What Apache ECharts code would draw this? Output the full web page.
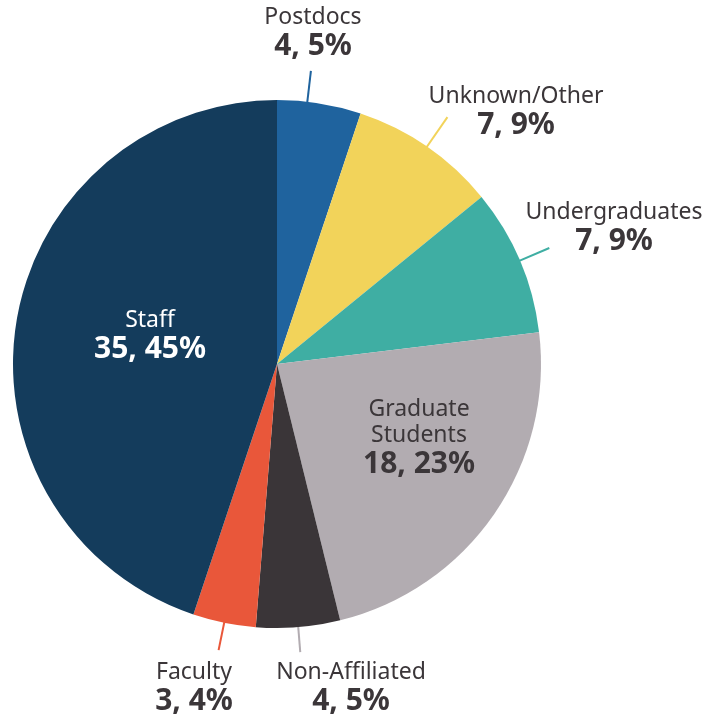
<!DOCTYPE html>
<html>
<head>
<meta charset="utf-8">
<script src="https://cdn.jsdelivr.net/npm/echarts@6/dist/echarts.min.js"></script>
<style>
  html, body { margin: 0; padding: 0; background: #fff; }
  #chart { width: 723px; height: 719px; }
</style>
</head>
<body>
<div id="chart"></div>
<script>
// data, clockwise from 12 o'clock
const categories = ['Postdocs', 'Unknown/Other', 'Undergraduates', 'Graduate Students', 'Non-Affiliated', 'Faculty', 'Staff']
const counts = [4, 7, 7, 18, 4, 3, 35]
const colors = ['#1f639e', '#f2d35a', '#3faea3', '#b2acb1', '#3a3538', '#e9573a', '#143c5c']

// where each label block sits, and how its leader line runs (radius from / to)
const labelSpots = {
  'Postdocs':          { x: 313, y: 33, line: [262, 295], lineColor: '#1f639e', angle: 6.6 },
  'Unknown/Other':     { x: 516, y: 112, line: [263, 300], lineColor: '#f2d35a' },
  'Undergraduates':    { x: 614, y: 228, line: [262, 296], lineColor: '#3faea3' },
  'Graduate Students': { x: 419, y: 438 },
  'Non-Affiliated':    { x: 351, y: 688, line: [236, 289], lineColor: '#b2acb1' },
  'Faculty':           { x: 194, y: 688, line: [262, 292], lineColor: '#e9573a' },
  'Staff':             { x: 150, y: 336, white: true }
}

const cx = 277, cy = 364, R = 264
const total = counts.reduce((a, b) => a + b, 0)

// middle angle of each slice (radians, clockwise from top)
const midAngles = []
let acc = 0
counts.forEach(v => {
  midAngles.push((acc + v / 2) / total * Math.PI * 2)
  acc += v
})

const ChartEl = echarts.init(document.getElementById('chart'))

const options = {
  backgroundColor: '#fff',
  animation: false,
  series: [{
    type: 'pie',
    center: [cx, cy],
    radius: R,
    startAngle: 90,
    clockwise: true,
    percentPrecision: 0,
    avoidLabelOverlap: false,
    label: {
      show: true,
      position: 'outside',
      formatter: p => '{n|' + p.name.replace(' ', '\n') + '}\n{v|' + p.value + ', ' + p.percent + '%}',
      align: 'center',
      rich: {
        n: { fontFamily: 'Noto Sans', fontSize: 23, lineHeight: 26, color: '#3b3639', align: 'center' },
        v: { fontFamily: 'Noto Sans', fontSize: 30, lineHeight: 32, fontWeight: 'bold', color: '#3b3639', align: 'center' }
      }
    },
    labelLine: { show: true, length: 10, length2: 0, lineStyle: { width: 2 } },
    labelLayout: params => {
      const name = categories[params.dataIndex]
      const spot = labelSpots[name]
      const out = { x: spot.x, y: spot.y, align: 'center', verticalAlign: 'middle' }
      if (spot.line) {
        const a = spot.angle != null ? spot.angle * Math.PI / 180 : midAngles[params.dataIndex]
        const p0 = [cx + spot.line[0] * Math.sin(a), cy - spot.line[0] * Math.cos(a)]
        const p1 = [cx + spot.line[1] * Math.sin(a), cy - spot.line[1] * Math.cos(a)]
        out.labelLinePoints = [p0, p1, p1]
      }
      return out
    },
    data: categories.map((name, i) => {
      const spot = labelSpots[name]
      const item = { name: name, value: counts[i], itemStyle: { color: colors[i] } }
      if (!spot.line) {
        item.labelLine = { show: false }
      } else {
        item.labelLine = { lineStyle: { color: spot.lineColor } }
      }
      if (spot.white) {
        item.label = { rich: { n: { color: '#fff' }, v: { color: '#fff' } } }
      }
      return item
    })
  }]
}

ChartEl.setOption(options)
</script>
</body>
</html>
